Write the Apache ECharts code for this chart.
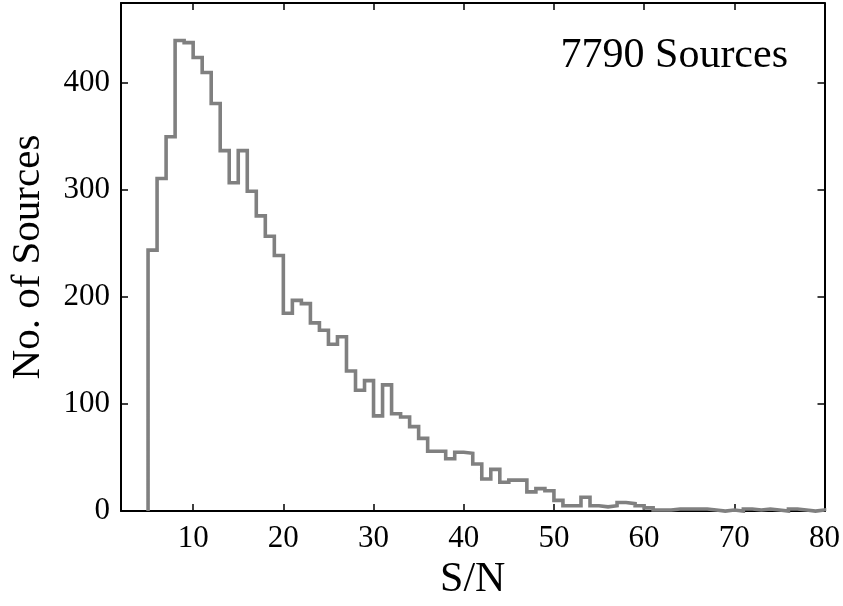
<!DOCTYPE html>
<html>
<head>
<meta charset="utf-8">
<script src="https://cdn.jsdelivr.net/npm/echarts@6/dist/echarts.min.js"></script>
<style>
html,body{margin:0;padding:0;background:#fff;}
#chart{width:843px;height:606px;}
</style>
</head>
<body>
<div id="chart"></div>
<script>
// Histogram bin edges (S/N) and counts per bin
const binEdges = [5,6,7,8,9,10,11,12,13,14,15,16,17,18,19,20,21,22,23,24,25,26,27,28,29,30,
  31,32,33,34,35,36,37,38,39,40,41,42,43,44,45,46,47,48,49,50,51,52,53,54,55,56,57,58,59,60,
  61,62,63,64,65,66,67,68,69,70,71,72,73,74,75,76,77,78,79,80];
const counts = [244,311,350,440,438,424,410,381,337,307,337,299,276,257,239,185,197,194,176,169,
  156,163,131,113,122,89,118,91,88,79,68,56,56,49,55,54,44,30,39,27,29,29,18,21,19,10,
  5,5,13,5,4,5,8,7,5,3,1,1,2,2,2,2,1,0,1,0,2,1,2,1,0,2,1,0,1];
const xTickValues = [10,20,30,40,50,60,70,80];
const yTickValues = [0,100,200,300,400];
const annotation = '7790 Sources';

const stepData = [[binEdges[0], 0]];
for (let i = 0; i < counts.length; i++) stepData.push([binEdges[i], counts[i]]);
stepData.push([binEdges[binEdges.length - 1], counts[counts.length - 1]]);
stepData.push([binEdges[binEdges.length - 1], 0]);

const FONT = '"Liberation Serif", "DejaVu Serif", serif';
const axisLineStyle = { color: '#000', width: 2 };
const tickStyle = { color: '#000', width: 1.5 };

const chart = echarts.init(document.getElementById('chart'), null, { renderer: 'canvas' });
chart.setOption({
  animation: false,
  backgroundColor: '#fff',
  grid: { left: 118, right: 17, top: 3, bottom: 94, containLabel: false },
  xAxis: [{
    type: 'value', min: 2, max: 80, position: 'bottom',
    name: 'S/N', nameLocation: 'middle', nameGap: 41,
    nameTextStyle: { fontFamily: FONT, fontSize: 42, color: '#000' },
    axisLine: { show: true, lineStyle: axisLineStyle },
    axisTick: { show: true, inside: true, length: 7, lineStyle: tickStyle, customValues: xTickValues },
    axisLabel: { show: true, fontFamily: FONT, fontSize: 31, color: '#000', margin: 12, customValues: xTickValues },
    splitLine: { show: false }
  }, {
    type: 'value', min: 2, max: 80, position: 'top',
    axisLine: { show: true, onZero: false, lineStyle: axisLineStyle },
    axisTick: { show: true, inside: true, length: 7, lineStyle: tickStyle, customValues: xTickValues },
    axisLabel: { show: false },
    splitLine: { show: false }
  }],
  yAxis: [{
    type: 'value', min: 0, max: 475, position: 'left',
    name: 'No. of Sources', nameLocation: 'middle', nameGap: 72, nameRotate: 90,
    nameTextStyle: { fontFamily: FONT, fontSize: 41, color: '#000' },
    axisLine: { show: true, lineStyle: axisLineStyle },
    axisTick: { show: true, inside: true, length: 7, lineStyle: tickStyle, customValues: yTickValues },
    axisLabel: { show: true, fontFamily: FONT, fontSize: 31, color: '#000', margin: 11, customValues: yTickValues },
    splitLine: { show: false }
  }, {
    type: 'value', min: 0, max: 475, position: 'right',
    axisLine: { show: true, onZero: false, lineStyle: axisLineStyle },
    axisTick: { show: true, inside: true, length: 7, lineStyle: tickStyle, customValues: yTickValues },
    axisLabel: { show: false },
    splitLine: { show: false }
  }],
  series: [{
    type: 'line',
    xAxisIndex: 0, yAxisIndex: 0,
    data: stepData,
    step: 'end',
    showSymbol: false,
    symbol: 'none',
    sampling: null,
    lineStyle: { color: '#808080', width: 3.6, join: 'miter' },
    z: 1
  }],
  graphic: [{
    type: 'text',
    right: 55, top: 35,
    style: { text: annotation, font: '42px ' + FONT, fill: '#000' }
  }]
});
</script>
</body>
</html>
